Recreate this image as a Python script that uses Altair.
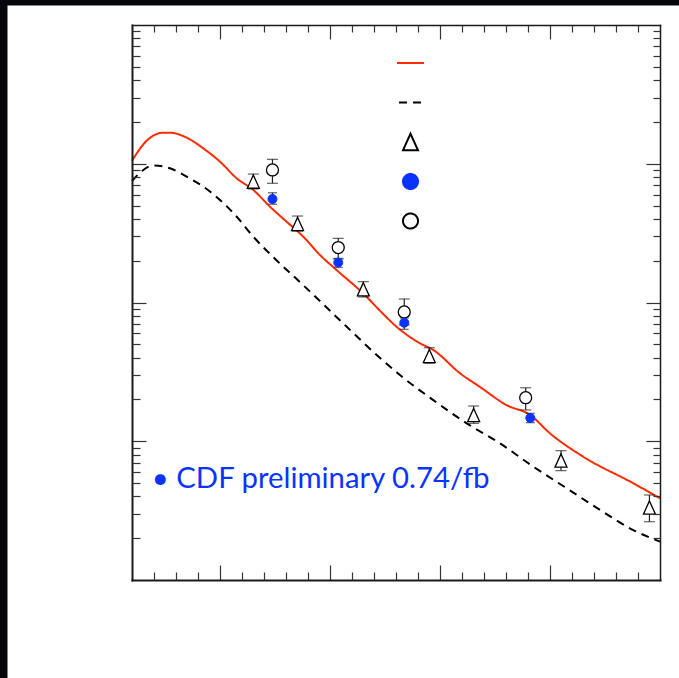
import altair as alt
import pandas as pd

# ---------------- data ----------------
X_DOMAIN = [20, 500]
Y_DOMAIN = [0.001, 10]

# red solid theory curve
nlo_x = [20, 33.4, 48.5, 54.5, 69.7, 84.8, 100, 115.2, 130.3, 145.5, 160.6, 175.7,
         190.9, 206.1, 230.3, 246.4, 260.6, 281.8, 293.9, 318.2, 336.4, 360.6,
         381.8, 400, 430.3, 475.7, 500]
nlo_y = [1.052, 1.466, 1.675, 1.675, 1.542, 1.291, 1.035, 0.785, 0.647, 0.490,
         0.382, 0.298, 0.220, 0.171, 0.116, 0.0857, 0.0668, 0.0508, 0.0455,
         0.0309, 0.0246, 0.0182, 0.0155, 0.0114, 0.00773, 0.00498, 0.00388]

# black dashed theory curve
lo_x = [20, 29.1, 39.4, 54.5, 69.7, 84.8, 100, 115.2, 130.3, 145.5, 175.5, 215,
        245.5, 263.6, 293.9, 324.3, 354.5, 384.8, 415.2, 445.5, 475.7, 500]
lo_y = [0.751, 0.887, 0.971, 0.927, 0.807, 0.684, 0.548, 0.415, 0.298, 0.2236,
        0.1337, 0.0671, 0.0398, 0.0300, 0.0198, 0.01346, 0.00966, 0.00656,
        0.00458, 0.00320, 0.00229, 0.00189]

# open triangles
tri_x = [130.3, 170.5, 230.3, 290.3, 330.6, 410.0, 490.4]
tri_y = [0.743, 0.368, 0.1245, 0.0411, 0.01545, 0.00726, 0.00333]
tri_hi = [0.843, 0.420, 0.1413, 0.0472, 0.01795, 0.00855, 0.00410]
tri_lo = [0.658, 0.327, 0.1096, 0.0365, 0.01346, 0.00614, 0.00263]

# open circles
open_x = [147.7, 207.5, 267.5, 377.9]
open_y = [0.902, 0.249, 0.0855, 0.0206]
open_hi = [1.076, 0.290, 0.106, 0.0243]
open_lo = [0.723, 0.206, 0.0689, 0.0168]

# blue filled circles (CDF)
cdf_x = [147.7, 207.5, 267.5, 382.1]
cdf_y = [0.557, 0.194, 0.0715, 0.01472]
cdf_hi = [0.618, 0.208, 0.0773, 0.01589]
cdf_lo = [0.511, 0.1795, 0.0641, 0.01361]

# annotation
note_text = ["\u2022 CDF preliminary 0.74/fb"]
note_x = [38.0]
note_y = [0.0046]

# axis ticks
x_major = [100, 200, 300, 400]
x_minor = [v for v in range(40, 500, 20) if v % 100 != 0]
y_major = [0.01, 0.1, 1]
y_minor = [k * 10.0 ** e for e in range(-3, 1) for k in range(2, 10)]

# series styling
series = ["NLO", "LO", "tri", "CDF", "open"]
stroke_range = ["#ff2a00", "#000000", "#000000", "#0a33ff", "#000000"]
fill_range = ["transparent", "transparent", "white", "#0a33ff", "white"]
shape_range = ["M-1.8,0L1.8,0", "M-1.53,0L1.53,0", "M0,-1.1L1,1.1L-1,1.1Z",
               "circle", "circle"]
dash_range = [[1, 0], [8, 6], [1, 0], [1, 0], [1, 0]]

BLUE = "#0a33ff"

# ---------------- layout (pixels) ----------------
VIEW_W, VIEW_H = 672, 673          # white area (page minus dark strips)
PAD_L, PAD_T = 7, 5
PLOT_L, PLOT_R = 125, 653          # plot frame inside the white view
PLOT_T, PLOT_B = 20, 575

# ---------------- tables ----------------
lines = pd.concat([
    pd.DataFrame({"x": nlo_x, "y": nlo_y, "series": "NLO"}),
    pd.DataFrame({"x": lo_x, "y": lo_y, "series": "LO"}),
], ignore_index=True)

pts_tri = pd.DataFrame({"x": tri_x, "y": tri_y, "lo": tri_lo, "hi": tri_hi, "series": "tri"})
pts_open = pd.DataFrame({"x": open_x, "y": open_y, "lo": open_lo, "hi": open_hi, "series": "open"})
pts_cdf = pd.DataFrame({"x": cdf_x, "y": cdf_y, "lo": cdf_lo, "hi": cdf_hi, "series": "CDF"})
pts_all = pd.concat([pts_tri, pts_open, pts_cdf], ignore_index=True)
note = pd.DataFrame({"x": note_x, "y": note_y, "text": note_text})

xs = alt.Scale(domain=X_DOMAIN, range=[PLOT_L, PLOT_R], nice=False, zero=False)
ys = alt.Scale(type="log", domain=Y_DOMAIN, range=[PLOT_B, PLOT_T], nice=False)

leg = alt.Legend(orient="none", legendX=395, legendY=49.5, title=None,
                 labelExpr="''", symbolSize=225, symbolStrokeWidth=2,
                 rowPadding=14.5, padding=0, labelFontSize=10, direction="vertical",
                 gridAlign="all")

stroke_enc = alt.Stroke("series:N", scale=alt.Scale(domain=series, range=stroke_range), legend=leg)
fill_enc = alt.Fill("series:N", scale=alt.Scale(domain=series, range=fill_range), legend=leg)
shape_enc = alt.Shape("series:N", scale=alt.Scale(domain=series, range=shape_range), legend=leg)
dash_enc = alt.StrokeDash("series:N", scale=alt.Scale(domain=series, range=dash_range), legend=leg)


def ax(orient, values, size, offset, domain=False, dwidth=1.5):
    # axes are placed on the opposite side so that ticks point into the plot
    return alt.Axis(orient=orient, values=values, tickSize=size, offset=offset,
                    labels=False, domain=domain, domainColor="#1a1a1a",
                    domainWidth=dwidth, domainCap="square", grid=False, ticks=True,
                    title=None, tickColor="#333333", tickWidth=1.2, zindex=1)


# frame sides: bottom edge -> "top" axis, top edge -> "bottom" axis, etc.
BOTTOM_EDGE = ("top", -PLOT_B)
TOP_EDGE = ("bottom", -(VIEW_H - PLOT_T))
LEFT_EDGE = ("right", -(VIEW_W - PLOT_L))
RIGHT_EDGE = ("left", -PLOT_R)


def X(axis):
    return alt.X("x:Q", scale=xs, axis=axis)


def Y(axis, field="y:Q"):
    return alt.Y(field, scale=ys, axis=axis)


line_layer = alt.Chart(lines).mark_line(strokeWidth=2, interpolate="monotone").encode(
    x=X(ax(BOTTOM_EDGE[0], x_major, 15, BOTTOM_EDGE[1], True, 2)),
    y=Y(ax(LEFT_EDGE[0], y_major, 14, LEFT_EDGE[1], True, 2)),
    stroke=stroke_enc,
    strokeDash=dash_enc,
    detail="series:N",
)

bars = alt.Chart(pts_all).mark_rule(strokeWidth=1.2, color="#222222").encode(
    x=X(ax(BOTTOM_EDGE[0], x_minor, 8, BOTTOM_EDGE[1])),
    y=Y(ax(LEFT_EDGE[0], y_minor, 8, LEFT_EDGE[1]), "lo:Q"),
    y2="hi:Q",
)

cap_lo = alt.Chart(pts_all).mark_tick(orient="horizontal", thickness=1.2, color="#222222").encode(
    x=X(ax(TOP_EDGE[0], x_major, 14, TOP_EDGE[1], True, 1.5)),
    y=Y(ax(RIGHT_EDGE[0], y_major, 14, RIGHT_EDGE[1], True, 1.5), "lo:Q"),
    size=alt.condition("datum.series == 'CDF'", alt.value(9), alt.value(11)),
)

cap_hi = alt.Chart(pts_all).mark_tick(orient="horizontal", thickness=1.2, color="#222222").encode(
    x=X(ax(TOP_EDGE[0], x_minor, 7, TOP_EDGE[1])),
    y=Y(ax(RIGHT_EDGE[0], y_minor, 7, RIGHT_EDGE[1]), "hi:Q"),
    size=alt.condition("datum.series == 'CDF'", alt.value(9), alt.value(11)),
)

tri_layer = alt.Chart(pts_tri).mark_point(filled=True, size=144, strokeWidth=1.3, opacity=1).encode(
    x=X(None), y=Y(None), shape=shape_enc, fill=fill_enc, stroke=stroke_enc,
)
open_layer = alt.Chart(pts_open).mark_point(filled=True, size=144, strokeWidth=1.3, opacity=1).encode(
    x=X(None), y=Y(None), shape=shape_enc, fill=fill_enc, stroke=stroke_enc,
)
cdf_layer = alt.Chart(pts_cdf).mark_point(filled=True, size=81, strokeWidth=1, opacity=1).encode(
    x=X(None), y=Y(None), shape=shape_enc, fill=fill_enc, stroke=stroke_enc,
)

text_layer = alt.Chart(note).mark_text(align="left", baseline="alphabetic", font="Lato",
                                       fontSize=29.3, color=BLUE).encode(
    x=X(None), y=Y(None), text="text:N",
)

chart = alt.layer(
    line_layer, bars, cap_lo, cap_hi, tri_layer, open_layer, cdf_layer, text_layer
).resolve_axis(x="independent", y="independent").properties(
    width=VIEW_W, height=VIEW_H,
    padding={"left": PAD_L, "top": PAD_T, "right": 0, "bottom": 0},
    autosize=alt.AutoSizeParams(type="none"),
    background="#06070c",
).configure_view(stroke="transparent", fill="white")

chart.save("out.html", embed_options={"renderer": "svg", "actions": False})
